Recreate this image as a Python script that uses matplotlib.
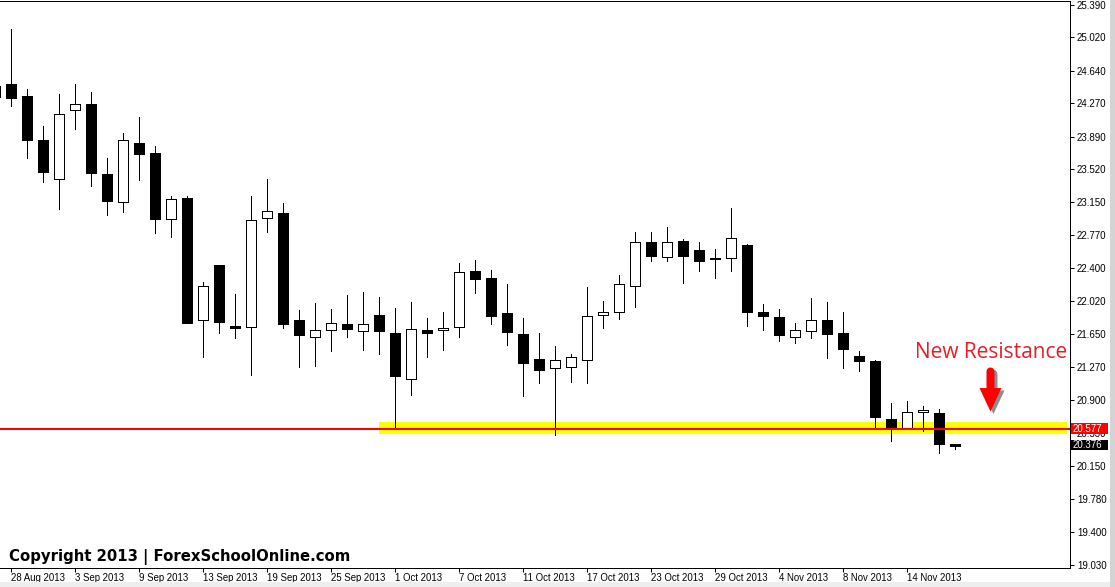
import matplotlib
matplotlib.use('Agg')
import matplotlib.pyplot as plt
import matplotlib.transforms as mtrans
from matplotlib.patches import Polygon, Rectangle
import numpy as np
import pandas as pd

# ---------------- data ----------------
dates = pd.bdate_range('2013-08-27', '2013-11-19')

opens = [24.46, 24.49, 24.35, 23.85, 23.41, 24.19, 24.26, 23.47, 23.15, 23.82,
         23.70, 22.95, 23.19, 21.81, 22.43, 21.74, 21.73, 22.97, 23.02, 21.81,
         21.62, 21.70, 21.76, 21.68, 21.87, 21.66, 21.14, 21.70, 21.69, 21.73,
         22.37, 22.29, 21.89, 21.65, 21.37, 21.26, 21.28, 21.36, 21.87, 21.90,
         22.19, 22.69, 22.52, 22.71, 22.60, 22.51, 22.51, 22.66, 21.90, 21.84,
         21.62, 21.68, 21.81, 21.66, 21.40, 21.34, 20.69, 20.58, 20.76, 20.75,
         20.405]
highs = [24.55, 25.11, 24.43, 24.01, 24.37, 24.49, 24.40, 23.65, 23.93, 24.11,
         23.78, 23.22, 23.22, 22.24, 22.43, 22.10, 23.22, 23.41, 23.14, 21.92,
         22.00, 21.93, 22.09, 22.13, 22.07, 21.95, 22.01, 21.83, 21.90, 22.46,
         22.49, 22.38, 22.22, 21.83, 21.66, 21.51, 21.42, 22.18, 22.02, 22.32,
         22.81, 22.81, 22.86, 22.73, 22.69, 22.62, 23.08, 22.67, 21.99, 21.93,
         21.78, 22.06, 22.01, 21.90, 21.46, 21.36, 20.87, 20.89, 20.83, 20.80,
         20.405]
lows = [24.30, 24.24, 23.65, 23.38, 23.07, 23.98, 23.33, 23.00, 23.04, 23.40,
        22.80, 22.75, 21.77, 21.39, 21.66, 21.61, 21.18, 22.81, 21.72, 21.27,
        21.29, 21.46, 21.62, 21.47, 21.42, 20.60, 20.96, 21.39, 21.47, 21.62,
        22.11, 21.76, 21.53, 20.95, 21.09, 20.50, 21.11, 21.09, 21.72, 21.82,
        21.96, 22.48, 22.48, 22.23, 22.36, 22.29, 22.37, 21.74, 21.70, 21.57,
        21.55, 21.61, 21.38, 21.26, 21.23, 20.59, 20.43, 20.57, 20.55, 20.30,
        20.34]
closes = [24.34, 24.33, 23.85, 23.49, 24.15, 24.26, 23.48, 23.16, 23.85, 23.69,
          22.95, 23.18, 21.78, 22.20, 21.79, 21.72, 22.94, 23.05, 21.76, 21.64,
          21.69, 21.78, 21.71, 21.76, 21.68, 21.17, 21.71, 21.66, 21.72, 22.35,
          22.28, 21.85, 21.67, 21.32, 21.24, 21.35, 21.39, 21.86, 21.90, 22.22,
          22.69, 22.53, 22.69, 22.53, 22.48, 22.50, 22.74, 21.90, 21.85, 21.64,
          21.69, 21.81, 21.65, 21.48, 21.34, 20.71, 20.60, 20.77, 20.79, 20.40,
          20.376]

resistance = 20.577
last_price = 20.376
zone_low, zone_high = 20.515, 20.655
zone_start_idx = 24

ytick_values = [25.390, 25.020, 24.640, 24.270, 23.890, 23.520, 23.150, 22.770,
                22.400, 22.020, 21.650, 21.270, 20.900, 20.530, 20.150, 19.780,
                19.400, 19.030]
xtick_idx = list(range(1, 61, 4))
xtick_labels = [f"{d.day} {d.strftime('%b %Y')}" for d in dates[xtick_idx]]

arrow_x, arrow_top, arrow_tip = 62.2, 21.27, 20.77

# ---------------- figure ----------------
W, H = 1115, 587
fig = plt.figure(figsize=(W / 100, H / 100), dpi=100)
fig.patch.set_facecolor('white')
ax = fig.add_axes([0, (H - 568) / H, 1070 / W, 567 / H])
ax.set_xlim(0.294, 67.17)
ax.set_ylim(18.994, 25.430)

px = 0.72  # one pixel in points
x = np.arange(len(dates))
o = np.array(opens); c = np.array(closes)
hi = np.array(highs); lo = np.array(lows)
up = c >= o

# zone
ax.add_patch(Rectangle((zone_start_idx, zone_low), 66.96 - zone_start_idx,
                       zone_high - zone_low, facecolor='#ffff00',
                       edgecolor='none', zorder=1))

# wicks
ax.vlines(x, lo, hi, color='black', linewidth=px, zorder=2, antialiased=False)
# bodies
bottoms = np.minimum(o, c)
heights = np.maximum(np.abs(c - o), 0.004)
ax.bar(x[up], heights[up], bottom=bottoms[up], width=0.625,
       facecolor='white', edgecolor='black', linewidth=px, zorder=3,
       antialiased=False)
ax.bar(x[~up], heights[~up], bottom=bottoms[~up], width=0.625,
       facecolor='black', edgecolor='black', linewidth=px, zorder=3,
       antialiased=False)

# resistance line
ax.axhline(resistance, color='#ff0000', linewidth=2 * px, zorder=4)

# axes styling
for s in ['top', 'right', 'bottom']:
    ax.spines[s].set_linewidth(px)
    ax.spines[s].set_color('black')
ax.spines['left'].set_visible(False)
ax.yaxis.tick_right()
ax.set_yticks(ytick_values)
ax.set_yticklabels([f"{v:.3f}" for v in ytick_values])
ax.tick_params(axis='y', which='both', length=3, width=px, pad=2,
               labelsize=7, colors='black', left=False)
ax.set_xticks(xtick_idx)
ax.set_xticklabels(xtick_labels)
ax.tick_params(axis='x', length=3, width=px, pad=0.6, labelsize=6.9,
               colors='black')
for lab in ax.get_xticklabels() + ax.get_yticklabels():
    lab.set_fontfamily('Liberation Sans')
for lab in ax.get_xticklabels():
    lab.set_ha('left')

fig.canvas.draw()

# price boxes at right
ident = mtrans.IdentityTransform()
def price_box(price, face, label):
    yd = ax.transData.transform((0, price))[1]
    fig.add_artist(Rectangle((1071, yd - 5.3), 37, 10.6, facecolor=face,
                             edgecolor='none', transform=ident, zorder=10))
    fig.text(1073 / W, yd / H, label, color='white', fontsize=7,
             fontfamily='Liberation Sans', va='center', ha='left', zorder=11)

price_box(resistance, '#ff0000', f"{resistance:.3f}")
price_box(last_price + 0.015, '#000000', f"{last_price:.3f}")

# arrow
xa, ya_top = ax.transData.transform((arrow_x, arrow_top))
_, ya_tip = ax.transData.transform((arrow_x, arrow_tip))
shaft_hw, head_hw = 4.0, 11.0
head_start = ya_tip + 23.5
theta = np.linspace(0, np.pi, 12)
top_arc = [(xa + shaft_hw * np.cos(t), ya_top - shaft_hw + shaft_hw * np.sin(t))
           for t in theta]
pts = top_arc + [(xa - shaft_hw, head_start), (xa - head_hw, head_start),
                 (xa, ya_tip), (xa + head_hw, head_start),
                 (xa + shaft_hw, head_start)]
pts = np.array(pts)
fig.add_artist(Polygon(pts + np.array([3, -2.5]), closed=True,
                       facecolor='#303030', edgecolor='none', alpha=0.55,
                       transform=ident, zorder=8))
fig.add_artist(Polygon(pts, closed=True, facecolor='#ff0000',
                       edgecolor='none', transform=ident, zorder=9))

# texts
fig.text(915 / W, (H - 358.3) / H, 'New Resistance', fontfamily='Open Sans',
         fontsize=15, color='#ec1c24', va='baseline', ha='left')
fig.text(9 / W, (H - 561) / H, 'Copyright 2013 | ForexSchoolOnline.com',
         fontfamily='DejaVu Sans', fontweight='bold', fontsize=10.7,
         color='black', va='baseline', ha='left')

# window borders
fig.add_artist(Rectangle((1110, 0), 5, H, facecolor='#d4d4d4',
                         edgecolor='none', transform=ident, zorder=12))
fig.add_artist(Rectangle((0, 0), 1110, 5, facecolor='#eeeeee',
                         edgecolor='none', transform=ident, zorder=12))

fig.savefig('out.png', dpi=100)
